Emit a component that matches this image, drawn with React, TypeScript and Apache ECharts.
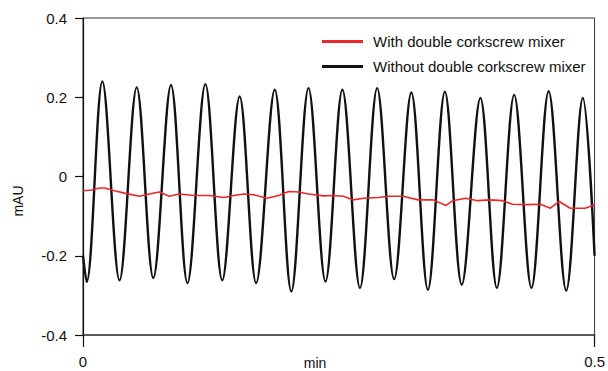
import React, { useEffect, useRef } from "react";
import * as echarts from "echarts";

// Time (min) and absorbance (mAU)
const withoutMixerTime = [
  0, 0.0036, 0.0189, 0.0357, 0.0525, 0.0687, 0.086, 0.1021, 0.1196, 0.1361,
  0.1531, 0.1692, 0.1874, 0.2036, 0.2204, 0.237, 0.2535, 0.2707, 0.2875, 0.3041,
  0.3209, 0.3371, 0.3537, 0.3702, 0.3884, 0.4045, 0.4214, 0.4383, 0.4551, 0.4723,
  0.4885, 0.5,
];
const withoutMixerValue = [
  -0.2, -0.266, 0.24, -0.262, 0.225, -0.256, 0.231, -0.269, 0.233, -0.262,
  0.202, -0.269, 0.219, -0.29, 0.223, -0.265, 0.219, -0.281, 0.223, -0.259,
  0.212, -0.286, 0.214, -0.273, 0.198, -0.281, 0.206, -0.281, 0.215, -0.288,
  0.198, -0.2,
];

const withMixerTime = [
  0, 0.0085, 0.0162, 0.0211, 0.0308, 0.0405, 0.0551, 0.0649, 0.0746, 0.0843,
  0.094, 0.1086, 0.1232, 0.1378, 0.1475, 0.1572, 0.167, 0.1796, 0.1913, 0.201,
  0.2107, 0.2205, 0.235, 0.2448, 0.2545, 0.2642, 0.274, 0.2885, 0.2983, 0.3129,
  0.3275, 0.3421, 0.3547, 0.3614, 0.3741, 0.3858, 0.3974, 0.4101, 0.4198, 0.4344,
  0.447, 0.4568, 0.4655, 0.4762, 0.4908, 0.5,
];
const withMixerValue = [
  -0.036, -0.034, -0.029, -0.029, -0.036, -0.042, -0.05, -0.044, -0.039, -0.05,
  -0.044, -0.048, -0.048, -0.053, -0.048, -0.044, -0.046, -0.055, -0.048, -0.038,
  -0.039, -0.044, -0.049, -0.048, -0.05, -0.059, -0.055, -0.053, -0.05, -0.05,
  -0.059, -0.059, -0.073, -0.061, -0.055, -0.061, -0.059, -0.061, -0.07, -0.071,
  -0.07, -0.08, -0.063, -0.08, -0.08, -0.071,
];

const seriesNames = ["With double corkscrew mixer", "Without double corkscrew mixer"];
const yTicks = [-0.4, -0.2, 0, 0.2, 0.4];
const xTicks = [0, 0.5];

const FONT = "'Liberation Sans', Arial, Helvetica, sans-serif";

export default function App() {
  const ref = useRef<HTMLDivElement>(null);

  useEffect(() => {
    if (!ref.current) return;
    const chart = echarts.init(ref.current, undefined, { renderer: "svg" });
    const withData = withMixerTime.map((t, i) => [t, withMixerValue[i]]);
    const withoutData = withoutMixerTime.map((t, i) => [t, withoutMixerValue[i]]);

    chart.setOption({
      animation: false,
      backgroundColor: "#ffffff",
      grid: {
        left: 83,
        right: 10.5,
        top: 18,
        bottom: 36,
        show: true,
        borderColor: "#333",
        borderWidth: 1,
      },
      legend: {
        orient: "vertical",
        left: 317,
        top: 29,
        itemGap: 10,
        icon: "rect",
        itemWidth: 41,
        itemHeight: 3,
        data: seriesNames,
        textStyle: {
          fontFamily: FONT,
          fontSize: 15,
          color: "#111",
          padding: [0, 0, 0, 5],
        },
      },
      xAxis: {
        type: "value",
        min: xTicks[0],
        max: xTicks[xTicks.length - 1],
        interval: 0.5,
        splitLine: { show: false },
        axisLine: { show: true, onZero: false, lineStyle: { color: "#444", width: 1.5 } },
        axisTick: { show: true, length: 12, lineStyle: { color: "#111", width: 1.2 } },
        axisLabel: {
          margin: 19,
          fontFamily: FONT,
          fontSize: 15,
          color: "#111",
          formatter: (v: number) => (v === 0 ? "0" : String(v)),
        },
      },
      yAxis: {
        type: "value",
        min: yTicks[0],
        max: yTicks[yTicks.length - 1],
        interval: 0.2,
        splitLine: { show: false },
        axisLine: { show: true, onZero: false, lineStyle: { color: "#111", width: 1.2 } },
        axisTick: { show: true, length: 8, lineStyle: { color: "#111", width: 1.2 } },
        axisLabel: {
          margin: 16,
          fontFamily: FONT,
          fontSize: 15,
          color: "#111",
          formatter: (v: number) => (Math.abs(v) < 1e-9 ? "0" : v.toFixed(1)),
        },
      },
      graphic: [
        {
          type: "text",
          x: 18,
          y: 201,
          rotation: Math.PI / 2,
          style: {
            text: "mAU",
            fontFamily: FONT,
            fontSize: 14,
            fill: "#111",
            align: "center",
            verticalAlign: "middle",
          },
        },
        {
          type: "text",
          x: 315,
          y: 363,
          style: {
            text: "min",
            fontFamily: FONT,
            fontSize: 14,
            fill: "#111",
            align: "center",
            verticalAlign: "middle",
          },
        },
      ],
      series: [
        {
          name: seriesNames[1],
          type: "line",
          data: withoutData,
          showSymbol: false,
          smooth: 0.35,
          lineStyle: { color: "#111", width: 2.4 },
          itemStyle: { color: "#111" },
          z: 2,
        },
        {
          name: seriesNames[0],
          type: "line",
          data: withData,
          showSymbol: false,
          lineStyle: { color: "#e8282b", width: 1.6 },
          itemStyle: { color: "#e8282b" },
          z: 3,
        },
      ],
    });

    return () => chart.dispose();
  }, []);

  return (
    <div
      ref={ref}
      style={{ position: "fixed", left: 0, top: 0, width: 608, height: 371 }}
    />
  );
}
